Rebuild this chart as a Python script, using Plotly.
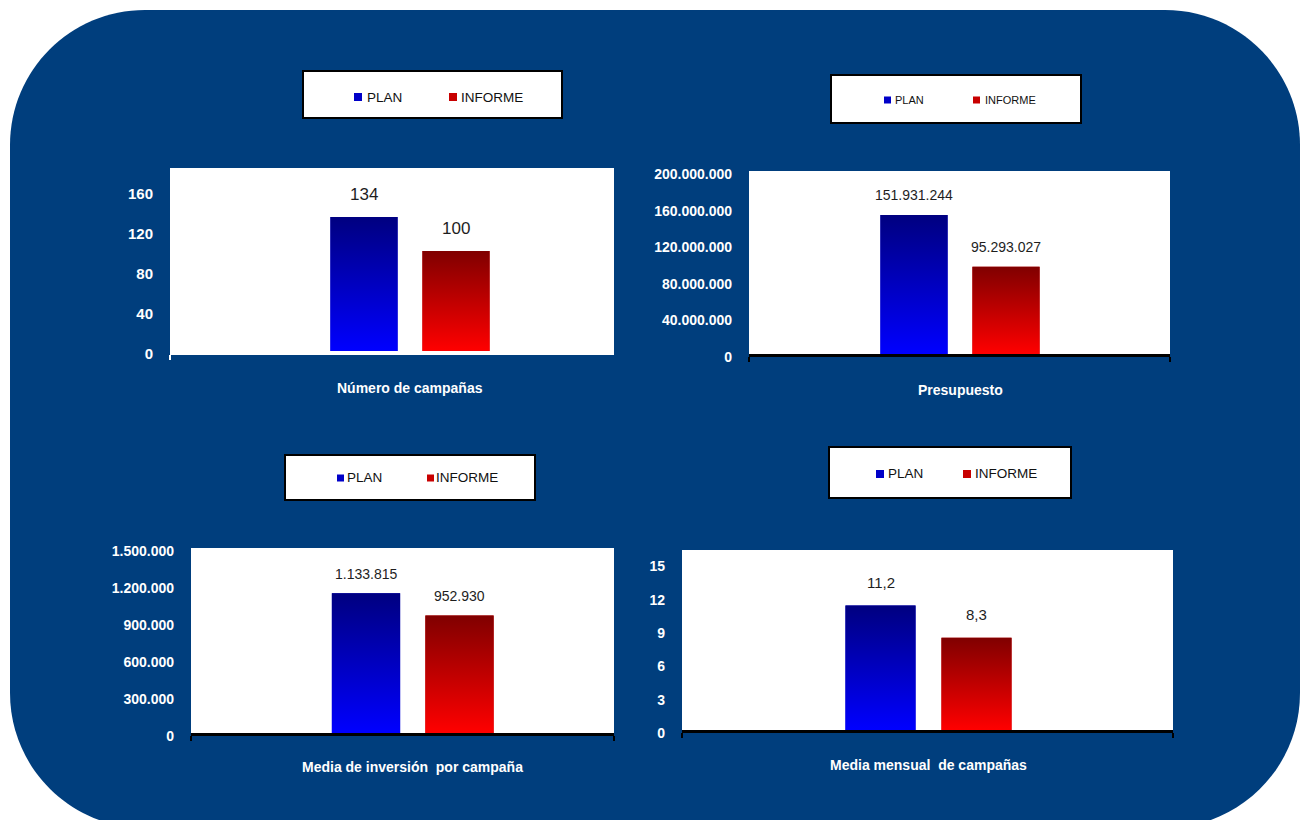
import plotly.graph_objects as go

W, H = 1301, 820
FONT = "Liberation Sans, Arial, sans-serif"
BG_BLUE = "#003E7D"

# ---------------- data ----------------
categories = ["Número de campañas", "Presupuesto",
              "Media de inversión  por campaña", "Media mensual  de campañas"]
series_names = ["PLAN", "INFORME"]
plan_values = [134, 151931244, 1133815, 11.2]
informe_values = [100, 95293027, 952930, 8.3]
y_tick_values = [
    [0, 40, 80, 120, 160],
    [0, 40000000, 80000000, 120000000, 160000000, 200000000],
    [0, 300000, 600000, 900000, 1200000, 1500000],
    [0, 3, 6, 9, 12, 15],
]
y_tick_labels = [
    ["0", "40", "80", "120", "160"],
    ["0", "40.000.000", "80.000.000", "120.000.000", "160.000.000", "200.000.000"],
    ["0", "300.000", "600.000", "900.000", "1.200.000", "1.500.000"],
    ["0", "3", "6", "9", "12", "15"],
]


def fmt(v):
    if float(v).is_integer():
        return f"{int(v):,}".replace(",", ".")
    return f"{v:.1f}".replace(".", ",")


def px(x):
    return x / W


def py(y):
    return 1 - y / H


# ---------------- layout constants (pixels) ----------------
panels = [
    dict(dom_x=(170, 614), dom_y=(168, 353), yr=(-2, 183), center=410, ppu=230,
         axis_color="white", axis_w=2, end_ticks="left", lbl_size=17, tick_size=15, lbl_gap=22, title_y=388),
    dict(dom_x=(749, 1170), dom_y=(171, 354), yr=(0, 200e6), center=960, ppu=230,
         axis_color="black", axis_w=3, end_ticks="both", lbl_size=14, tick_size=14, lbl_gap=20, title_y=390),
    dict(dom_x=(191, 614), dom_y=(548, 733), yr=(0, 1.5e6), center=412.75, ppu=233.75,
         axis_color="black", axis_w=3, end_ticks="both", lbl_size=14, tick_size=14, lbl_gap=19, title_y=767),
    dict(dom_x=(682, 1173), dom_y=(550, 730), yr=(0, 16.2), center=928.5, ppu=240,
         axis_color="black", axis_w=3, end_ticks="both", lbl_size=15, tick_size=14, lbl_gap=23, title_y=765),
]
legend_boxes = [
    dict(box=(303, 71, 562, 118), sw=(354, 449), tx=(365, 459), cy=97, size=13.5, s=8),
    dict(box=(831, 75, 1081, 123), sw=(884, 973), tx=(893, 983), cy=100, size=11, s=7),
    dict(box=(285, 455, 535, 500), sw=(337, 427), tx=(345, 434), cy=478, size=13.5, s=7),
    dict(box=(829, 447, 1071, 498), sw=(876, 963), tx=(886, 973), cy=474, size=13.5, s=8),
]

GRAD = {"PLAN": [[0, "#0000FF"], [1, "#000080"]],
        "INFORME": [[0, "#FF0000"], [1, "#800000"]]}
SOLID = {"PLAN": "#0000C8", "INFORME": "#C80000"}
OFFSETS = {"PLAN": -0.2, "INFORME": 0.2}
BAR_W = 0.292

fig = go.Figure()
shapes = []
annotations = []

# rounded blue background
x0, y0, x1, y1, r = 10, 10, 1300, 828, 135
k = 0.5523 * r


def P(x, y):
    return f"{px(x):.5f},{py(y):.5f}"


path = (f"M{P(x0 + r, y0)} L{P(x1 - r, y0)} C{P(x1 - r + k, y0)} {P(x1, y0 + r - k)} {P(x1, y0 + r)} "
        f"L{P(x1, y1 - r)} C{P(x1, y1 - r + k)} {P(x1 - r + k, y1)} {P(x1 - r, y1)} "
        f"L{P(x0 + r, y1)} C{P(x0 + r - k, y1)} {P(x0, y1 - r + k)} {P(x0, y1 - r)} "
        f"L{P(x0, y0 + r)} C{P(x0, y0 + r - k)} {P(x0 + r - k, y0)} {P(x0 + r, y0)} Z")
shapes.append(dict(type="path", xref="paper", yref="paper", path=path,
                   fillcolor=BG_BLUE, line=dict(width=0), layer="below"))

layout_axes = {}
for i, p in enumerate(panels):
    sfx = "" if i == 0 else str(i + 1)
    xa, ya = "x" + sfx, "y" + sfx
    xr = ((p["dom_x"][0] - p["center"]) / p["ppu"], (p["dom_x"][1] - p["center"]) / p["ppu"])

    # white plot area
    shapes.append(dict(type="rect", xref="paper", yref="paper",
                       x0=px(p["dom_x"][0]), x1=px(p["dom_x"][1]),
                       y0=py(p["dom_y"][1]), y1=py(p["dom_y"][0]),
                       fillcolor="white", line=dict(width=0), layer="below"))

    vals = {"PLAN": plan_values[i], "INFORME": informe_values[i]}
    for s in series_names:
        c = OFFSETS[s]
        v = vals[s]
        fig.add_trace(go.Bar(x=[c], y=[v], width=[BAR_W], name=s,
                             marker=dict(color=SOLID[s], line=dict(width=0)),
                             xaxis=xa, yaxis=ya, showlegend=False, hoverinfo="skip"))
        fig.add_trace(go.Scatter(
            x=[c - BAR_W / 2, c - BAR_W / 2, c + BAR_W / 2, c + BAR_W / 2, c - BAR_W / 2],
            y=[0, v, v, 0, 0], mode="lines", fill="toself", line=dict(width=0, color=SOLID[s]),
            fillgradient=dict(type="vertical", colorscale=GRAD[s]),
            xaxis=xa, yaxis=ya, showlegend=False, hoverinfo="skip"))
        annotations.append(dict(x=c, y=v, xref=xa, yref=ya, text=fmt(v), showarrow=False,
                                yanchor="middle", yshift=p["lbl_gap"],
                                font=dict(family=FONT, size=p["lbl_size"], color="#1E1E1E")))

    # category title
    annotations.append(dict(x=0, y=py(p["title_y"]), xref=xa, yref="paper", text=categories[i],
                            showarrow=False, yanchor="middle", xanchor="center",
                            font=dict(family=FONT, size=14, color="white", weight="bold")))

    tv = [xr[0] + 1e-6] if p["end_ticks"] == "left" else [xr[0] + 1e-6, xr[1] - 1e-6]
    layout_axes["xaxis" + sfx] = dict(
        domain=[px(p["dom_x"][0]), px(p["dom_x"][1])], range=list(xr), anchor=ya, automargin=False,
        showgrid=False, zeroline=False, showline=True, linecolor=p["axis_color"], linewidth=p["axis_w"],
        tickmode="array", tickvals=tv, ticktext=[""] * len(tv),
        ticks="outside", ticklen=5, tickwidth=2, tickcolor=p["axis_color"], fixedrange=True)
    layout_axes["yaxis" + sfx] = dict(
        domain=[py(p["dom_y"][1]), py(p["dom_y"][0])], range=list(p["yr"]), anchor=xa, automargin=False,
        showgrid=False, zeroline=False, showline=False,
        tickmode="array", tickvals=y_tick_values[i], ticktext=y_tick_labels[i],
        ticks="", ticklabelstandoff=16, ticklabelshift=3,
        tickfont=dict(family=FONT, size=p["tick_size"], color="white", weight="bold"), fixedrange=True)

# legends
for lb in legend_boxes:
    bx0, by0, bx1, by1 = lb["box"]
    shapes.append(dict(type="rect", xref="paper", yref="paper", x0=px(bx0), x1=px(bx1), y0=py(by1), y1=py(by0),
                       fillcolor="white", line=dict(color="black", width=2), layer="above"))
    for j, s in enumerate(series_names):
        sx = lb["sw"][j]
        half = lb["s"] / 2
        shapes.append(dict(type="rect", xref="paper", yref="paper",
                           x0=px(sx), x1=px(sx + lb["s"]), y0=py(lb["cy"] + half), y1=py(lb["cy"] - half),
                           fillcolor=SOLID[s], line=dict(width=0), layer="above"))
        annotations.append(dict(x=px(lb["tx"][j]), y=py(lb["cy"]), xref="paper", yref="paper", text=s,
                                showarrow=False, xanchor="left", yanchor="middle",
                                font=dict(family=FONT, size=lb["size"], color="#111111")))

fig.update_layout(
    width=W, height=H, autosize=False, margin=dict(l=0, r=0, t=0, b=0, pad=0, autoexpand=False),
    paper_bgcolor="white", plot_bgcolor="rgba(0,0,0,0)",
    barmode="overlay", showlegend=False, hovermode=False,
    shapes=shapes, annotations=annotations, font=dict(family=FONT),
    **layout_axes,
)

fig.write_html("out.html")
